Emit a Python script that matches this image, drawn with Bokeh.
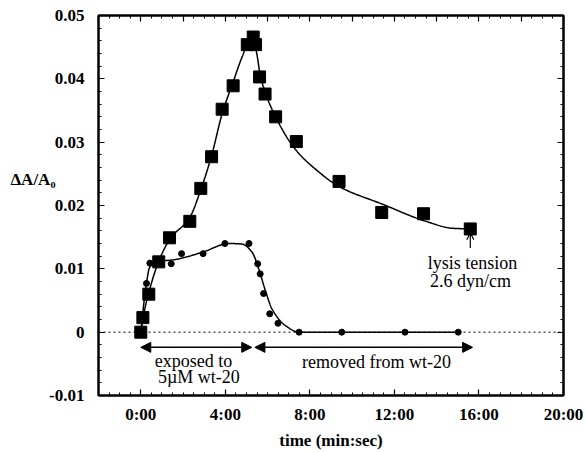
import numpy as np
from bokeh.plotting import figure
from bokeh.models import (FixedTicker, LinearAxis, Label, Arrow, NormalHead,
                          OpenHead, Span, Range1d)
from bokeh.embed import file_html
from bokeh.resources import INLINE

# ---- data (time in minutes, dA/A0) ----
sq_t = [0.0, 0.1, 0.38, 0.85, 1.36, 2.32, 2.84, 3.35, 3.85, 4.37, 5.04, 5.32,
        5.43, 5.62, 5.88, 6.38, 7.36, 9.38, 11.4, 13.38, 15.59]
sq_y = [0.0, 0.0023, 0.006, 0.0111, 0.0149, 0.0175, 0.0227, 0.0277, 0.0352,
        0.0389, 0.0454, 0.0466, 0.0454, 0.0403, 0.0376, 0.034, 0.0301, 0.0238,
        0.0189, 0.0187, 0.0163]

ci_t = [0.0, 0.27, 0.43, 1.44, 1.93, 2.95, 3.98, 5.12, 5.53, 5.65, 5.81, 6.1,
        6.49, 7.49, 9.51, 12.5, 15.02]
ci_y = [0.0, 0.0077, 0.0109, 0.0108, 0.0124, 0.0124, 0.014, 0.014, 0.0108,
        0.0092, 0.0061, 0.0029, 0.0014, 0.0, 0.0, 0.0, 0.0]

# fitted curves (knots)
sq_fit_t = [0.0, 0.15, 0.4, 0.85, 1.4, 2.3, 2.85, 3.36, 3.85, 4.37, 4.8, 5.17,
            5.45, 5.67, 6.38, 7.33, 8.28, 9.38, 11.44, 13.49, 14.76, 15.55]
sq_fit_y = [0.0, 0.003, 0.0065, 0.0112, 0.0148, 0.018, 0.0226, 0.028, 0.0345,
            0.0395, 0.0435, 0.0461, 0.0445, 0.0403, 0.034, 0.0288, 0.0257,
            0.023, 0.0202, 0.0175, 0.0164, 0.0163]
ci_fit_t = [0.0, 0.2, 0.43, 0.85, 1.49, 2.9, 4.17, 4.8, 5.27, 5.59, 5.9, 6.22,
            6.86, 7.49, 15.02]
ci_fit_y = [0.0, 0.006, 0.0103, 0.0112, 0.0114, 0.0126, 0.014, 0.0139, 0.0126,
            0.0099, 0.0065, 0.0036, 0.001, 0.0, 0.0]

x_ticks = [0, 4, 8, 12, 16, 20]
x_tick_labels = ["0:00", "4:00", "8:00", "12:00", "16:00", "20:00"]
y_ticks = [-0.01, 0.0, 0.01, 0.02, 0.03, 0.04, 0.05]
y_tick_labels = ["-0.01", "0", "0.01", "0.02", "0.03", "0.04", "0.05"]
x_title = "time (min:sec)"
y_title = "\u0394A/A\u2080"


def pchip(xk, yk, n=30):
    xk = np.asarray(xk, float)
    yk = np.asarray(yk, float)
    h = np.diff(xk)
    d = np.diff(yk) / h
    m = np.zeros_like(xk)
    for i in range(1, len(xk) - 1):
        if d[i - 1] * d[i] > 0:
            w1 = 2 * h[i] + h[i - 1]
            w2 = h[i] + 2 * h[i - 1]
            m[i] = (w1 + w2) / (w1 / d[i - 1] + w2 / d[i])
    m[0] = d[0]
    m[-1] = d[-1]
    xs, ys = [], []
    for i in range(len(xk) - 1):
        t = np.linspace(0, 1, n, endpoint=False)
        h00 = 2 * t**3 - 3 * t**2 + 1
        h10 = t**3 - 2 * t**2 + t
        h01 = -2 * t**3 + 3 * t**2
        h11 = t**3 - t**2
        xs.extend(xk[i] + t * h[i])
        ys.extend(h00 * yk[i] + h10 * h[i] * m[i] + h01 * yk[i + 1] + h11 * h[i] * m[i + 1])
    xs.append(xk[-1])
    ys.append(yk[-1])
    return xs, ys


SERIF = "Liberation Serif"

p = figure(width=585, height=452, output_backend="svg", toolbar_location=None,
           x_range=Range1d(-2, 20), y_range=Range1d(-0.01, 0.05),
           min_border_left=98, min_border_right=22, min_border_top=15,
           min_border_bottom=55, x_axis_location=None, y_axis_location=None)
p.grid.visible = False
p.outline_line_color = "black"
p.outline_line_width = 2
p.background_fill_color = "white"
p.border_fill_color = "white"


def style_axis(ax, labels=True):
    ax.axis_line_width = 2
    ax.axis_line_color = "black"
    ax.major_tick_in = 6
    ax.major_tick_out = 0
    ax.minor_tick_in = 3
    ax.minor_tick_out = 0
    ax.major_tick_line_width = 1.2
    ax.minor_tick_line_width = 1
    ax.major_label_text_font = SERIF
    ax.major_label_text_font_style = "bold"
    ax.major_label_text_color = "black"
    ax.major_label_text_font_size = "17px"
    if not labels:
        ax.major_label_text_font_size = "1px"
        ax.major_label_text_color = None
        ax.major_label_standoff = 0


xminor = list(np.arange(-2, 20.01, 0.5))
yminor = list(np.arange(-0.01, 0.0501, 0.002))

xb = LinearAxis(ticker=FixedTicker(ticks=x_ticks, minor_ticks=xminor))
style_axis(xb)
xb.major_label_overrides = dict(zip(x_ticks, x_tick_labels))
xb.major_label_standoff = 9
xb.axis_label = x_title
xb.axis_label_text_font = SERIF
xb.axis_label_text_font_style = "bold"
xb.axis_label_text_font_size = "17px"
xb.axis_label_text_color = "black"
xb.axis_label_standoff = 4
p.add_layout(xb, "below")

xt = LinearAxis(ticker=FixedTicker(ticks=list(range(-2, 21, 2)), minor_ticks=xminor))
style_axis(xt, labels=False)
p.add_layout(xt, "above")

yl = LinearAxis(ticker=FixedTicker(ticks=y_ticks, minor_ticks=yminor))
style_axis(yl)
yl.major_label_overrides = dict(zip(y_ticks, y_tick_labels))
yl.major_label_standoff = 14
p.add_layout(yl, "left")

# horizontal y-axis title, drawn as the single label of a bare outer axis
title_pos = 0.0241
yl2 = LinearAxis(ticker=FixedTicker(ticks=[title_pos], minor_ticks=[]))
yl2.axis_line_color = None
yl2.major_tick_line_color = None
yl2.minor_tick_line_color = None
yl2.major_tick_in = 0
yl2.major_tick_out = 0
yl2.major_label_overrides = {title_pos: y_title}
yl2.major_label_text_font = SERIF
yl2.major_label_text_font_style = "bold"
yl2.major_label_text_font_size = "17px"
yl2.major_label_text_color = "black"
yl2.major_label_standoff = -9
p.add_layout(yl2, "left")

yr = LinearAxis(ticker=FixedTicker(ticks=y_ticks, minor_ticks=yminor))
style_axis(yr, labels=False)
p.add_layout(yr, "right")

# zero line
p.add_layout(Span(location=0, dimension="width", line_color="black",
                  line_width=1, line_dash="2 3"))

# fitted curves
fx, fy = pchip(sq_fit_t, sq_fit_y)
p.line(fx, fy, line_color="black", line_width=1.5)
cx, cy = pchip(ci_fit_t, ci_fit_y)
p.line(cx, cy, line_color="black", line_width=1.5)

# points
p.scatter(ci_t, ci_y, marker="circle", size=6, color="black")
p.scatter(sq_t, sq_y, marker="square", size=12, color="black")

# bottom arrows
arr_y = -0.0024
for xs, xe in [(0.0, 5.25), (5.4, 15.7)]:
    p.add_layout(Arrow(x_start=xs, y_start=arr_y, x_end=xe, y_end=arr_y,
                       line_width=1.5, line_color="black",
                       start=NormalHead(size=10, fill_color="black", line_color="black"),
                       end=NormalHead(size=10, fill_color="black", line_color="black")))

# lysis arrow
p.add_layout(Arrow(x_start=15.59, y_start=0.0133, x_end=15.59, y_end=0.0157,
                   line_width=1.2, line_color="black",
                   end=OpenHead(size=7, line_color="black", line_width=1.2)))


def add_text(x, y, txt, size="18px", style="normal", align="center", baseline="middle"):
    p.add_layout(Label(x=x, y=y, text=txt, text_font=SERIF, text_font_size=size,
                       text_font_style=style, text_align=align,
                       text_baseline=baseline, text_color="black"))


add_text(2.5, -0.0045, "exposed to")
add_text(2.75, -0.0071, "5\u00b5M wt-20")
add_text(11.15, -0.0047, "removed from wt-20")
add_text(15.7, 0.0109, "lysis tension")
add_text(15.6, 0.0081, "2.6 dyn/cm")

open("out.html", "w").write(file_html(p, INLINE))
